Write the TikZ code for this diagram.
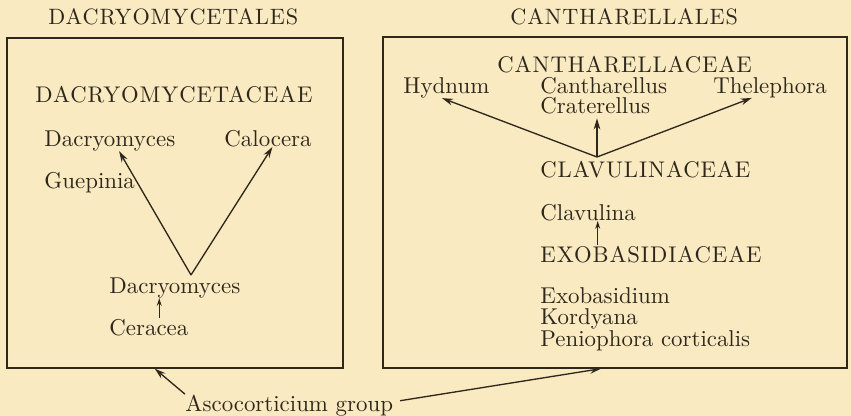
\documentclass[tikz,border=0pt]{standalone}
\usepackage{fontspec}
\usepackage{tikz}
\usetikzlibrary{arrows.meta,positioning,fit,calc}
\newfontfamily\famcaps[LetterSpace=4]{Latin Modern Roman}
\definecolor{pagePaper}{HTML}{FAEAC2}
\definecolor{pageInk}{HTML}{2E281C}
\tikzset{
  taxbox/.style={draw=pageInk, line width=0.6pt, inner sep=0pt},
  taxname/.style={text=pageInk, inner sep=0pt, anchor=base west, font=\fontsize{10.3}{12}\selectfont},
  taxfamily/.style={taxname, font=\famcaps\fontsize{10.2}{12}\selectfont},
  taxorder/.style={taxname, font=\famcaps\fontsize{10}{12}\selectfont},
  taxarrow/.style={-{Stealth[length=5pt,width=3pt]}, draw=pageInk, line width=0.6pt},
  taxsmall/.style={-{Stealth[length=3.5pt,width=2.2pt]}, draw=pageInk, line width=0.5pt}
}
\begin{document}
\begin{tikzpicture}[x=0.45pt, y=-0.45pt]
    \fill[pagePaper] (0,0) rectangle (851,416);
    \useasboundingbox (0,0) rectangle (851,416);

    % left order
    \node[taxorder] (dacryales) at (48,24) {DACRYOMYCETALES};
    \node[taxbox, fit={(7,38) (343,368)}] (lbox) {};
    \node[taxfamily] (dacryceae) at (35,102) {DACRYOMYCETACEAE};
    \node[taxname] (dacrya) at (44,146) {Dacryomyces};
    \node[taxname] (calocera) at (224,146) {Calocera};
    \node[taxname] (guepinia) at (44,188) {Guepinia};
    \node[taxname] (dacryb) at (109,293) {Dacryomyces};
    \node[taxname] (ceracea) at (109,335) {Ceracea};
    \coordinate (dvee) at (191,275);

    \draw[taxarrow] (dvee) -- ($(dacrya.south west)!0.57!(dacrya.south east)$);
    \draw[taxarrow] (dvee) -- ($(calocera.south west)!0.55!(calocera.south east)$);
    \draw[taxsmall] ($(ceracea.north west)!0.63!(ceracea.north east)$) coordinate (c1) -- (c1 |- dacryb.south);

    % right order
    \node[taxorder] (cantales) at (510,24) {CANTHARELLALES};
    \node[taxbox, fit={(383,37) (847,368)}] (rbox) {};
    \node[taxfamily] (cantceae) at (497,72) {CANTHARELLACEAE};
    \node[taxname] (hydnum) at (403,93) {Hydnum};
    \node[taxname] (canth) at (540,93) {Cantharellus};
    \node[taxname] (crater) at (540,113) {Craterellus};
    \node[taxname] (theleph) at (713,93) {Thelephora};
    \coordinate (cvee) at (597,157);
    \node[taxfamily] (clavceae) at (540,177) {CLAVULINACEAE};
    \node[taxname] (clavulina) at (540,220) {Clavulina};
    \node[taxfamily] (exoceae) at (540,262) {EXOBASIDIACEAE};
    \node[taxname] (exobas) at (540,303) {Exobasidium};
    \node[taxname] (kordyana) at (540,324) {Kordyana};
    \node[taxname] (penioph) at (540,346) {Peniophora corticalis};

    \draw[taxarrow] (cvee) -- ($(hydnum.south west)!0.45!(hydnum.south east)$);
    \draw[taxarrow] (cvee) -- ($(theleph.south west)!0.34!(theleph.south east)$);
    \draw[taxarrow, shorten >=2pt] (cvee) -- (cvee |- crater.south);
    \draw[taxsmall] ($(exoceae.north west)!0.26!(exoceae.north east)$) coordinate (c2) -- (c2 |- clavulina.south);

    \node[taxname] (asco) at (185,411) {Ascocorticium group};
    \draw[taxarrow] (asco.north west) -- ($(lbox.south west)!0.44!(lbox.south east)$);
    \draw[taxarrow] ([xshift=3pt,yshift=2pt]asco.east) -- ($(rbox.south west)!0.47!(rbox.south east)$);
\end{tikzpicture}
\end{document}
